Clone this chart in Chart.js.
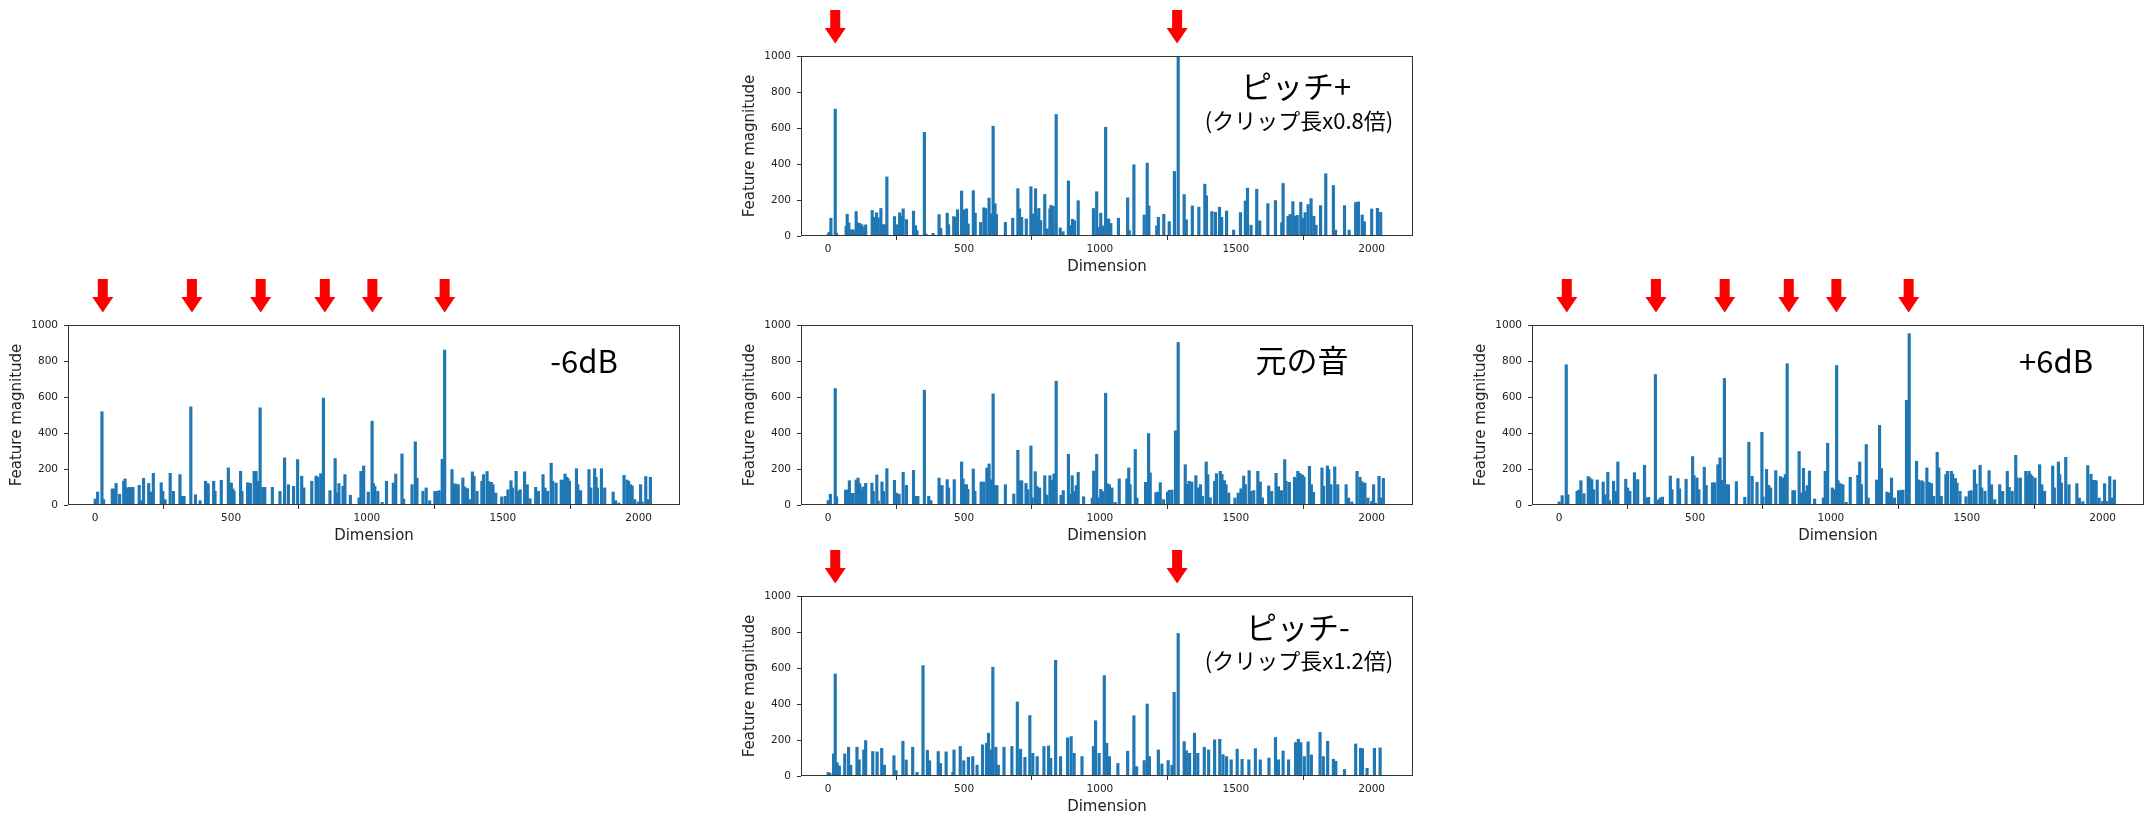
<!DOCTYPE html>
<html>
<head>
<meta charset="utf-8">
<script src="https://cdn.jsdelivr.net/npm/chart.js@4"></script>
<style>
body { margin: 0; background: #fff; width: 2150px; height: 814px; position: relative; overflow: hidden; }
canvas { position: absolute; }
</style>
</head>
<body>
<canvas id="pitchUp"></canvas>
<canvas id="minus6"></canvas>
<canvas id="orig"></canvas>
<canvas id="plus6"></canvas>
<canvas id="pitchDown"></canvas>
<script>
const xTicks = [0, 500, 1000, 1500, 2000];
const yTicks = [0, 200, 400, 600, 800, 1000];

// dimensions marked with red arrows
const loudArrows = [28, 356, 609, 845, 1020, 1286];
const pitchArrows = [26, 1284];

// [dimension, feature magnitude]
const original = [[0,25],[8,60],[26,647],[31,46],[64,83],[70,83],[78,135],[86,65],[92,65],[103,139],[110,150],[116,119],[121,80],[128,100],[138,120],[161,122],[166,75],[179,167],[184,22],[198,128],[204,75],[216,202],[244,137],[251,66],[261,60],[276,182],[288,109],[314,193],[321,48],[330,48],[354,638],[370,48],[378,24],[408,150],[413,108],[419,108],[438,141],[443,95],[464,141],[491,239],[496,145],[503,113],[509,113],[514,87],[534,200],[540,76],[563,128],[573,128],[584,206],[592,228],[597,140],[602,95],[607,618],[613,108],[621,108],[652,113],[683,61],[698,304],[703,135],[712,135],[728,120],[734,85],[746,328],[751,40],[762,185],[768,104],[778,95],[797,163],[805,55],[816,163],[822,137],[831,172],[839,688],[857,54],[865,80],[884,282],[889,60],[898,163],[905,75],[913,108],[920,182],[940,46],[972,39],[977,189],[988,282],[993,40],[1003,87],[1010,75],[1021,621],[1026,119],[1035,113],[1044,95],[1056,15],[1071,145],[1099,145],[1106,206],[1111,113],[1130,308],[1136,39],[1168,126],[1179,397],[1185,178],[1206,69],[1214,72],[1222,124],[1234,30],[1249,72],[1255,82],[1265,83],[1278,412],[1288,903],[1314,224],[1321,115],[1328,132],[1338,128],[1353,163],[1359,95],[1370,113],[1377,48],[1391,239],[1397,169],[1406,40],[1422,132],[1429,174],[1443,187],[1449,170],[1458,135],[1464,113],[1474,67],[1497,39],[1509,67],[1519,90],[1529,161],[1535,113],[1549,191],[1555,76],[1566,80],[1581,187],[1590,128],[1598,39],[1621,106],[1632,76],[1648,176],[1657,102],[1668,80],[1680,252],[1685,132],[1697,126],[1716,154],[1722,145],[1728,187],[1735,176],[1740,169],[1746,165],[1751,154],[1771,215],[1778,113],[1786,70],[1817,206],[1823,104],[1837,217],[1842,197],[1850,113],[1864,212],[1875,113],[1906,113],[1915,39],[1927,17],[1946,187],[1957,154],[1963,130],[1970,122],[1975,122],[1986,39],[2000,20],[2007,113],[2014,10],[2027,160],[2034,39],[2043,148]];

const minus6dB = [[0,33],[9,72],[25,518],[31,30],[63,89],[69,89],[77,120],[90,60],[105,132],[110,145],[116,95],[125,98],[132,98],[139,98],[162,109],[167,24],[178,148],[197,120],[204,72],[214,176],[243,124],[249,76],[257,30],[276,176],[288,76],[312,169],[320,48],[327,48],[352,545],[369,57],[386,24],[406,132],[413,120],[416,113],[436,132],[441,76],[464,137],[490,206],[495,122],[501,122],[507,89],[511,76],[535,187],[540,76],[561,124],[571,120],[585,187],[592,187],[598,132],[607,540],[617,98],[624,98],[652,98],[680,76],[697,262],[711,113],[730,104],[745,252],[760,160],[768,95],[797,132],[813,161],[819,154],[830,174],[840,594],[864,80],[883,258],[889,67],[897,119],[912,104],[919,169],[939,54],[971,39],[978,187],[988,217],[1005,72],[1019,466],[1024,119],[1029,104],[1040,76],[1056,15],[1072,132],[1097,122],[1106,172],[1129,284],[1135,33],[1166,113],[1178,351],[1184,150],[1206,76],[1218,95],[1231,24],[1250,76],[1257,76],[1266,80],[1277,254],[1286,861],[1313,197],[1320,117],[1327,117],[1336,113],[1353,150],[1360,100],[1370,91],[1379,30],[1388,184],[1394,160],[1405,76],[1423,132],[1429,169],[1442,186],[1448,130],[1458,126],[1464,113],[1474,67],[1496,45],[1509,48],[1519,85],[1530,135],[1536,95],[1549,187],[1554,76],[1564,85],[1580,184],[1590,113],[1600,35],[1621,98],[1631,76],[1648,169],[1655,95],[1665,76],[1678,232],[1684,132],[1696,122],[1715,139],[1722,135],[1729,172],[1735,154],[1740,146],[1745,132],[1771,202],[1776,113],[1786,80],[1817,197],[1824,95],[1838,202],[1843,154],[1848,95],[1863,202],[1875,95],[1906,72],[1915,24],[1927,11],[1946,165],[1957,139],[1963,132],[1970,113],[1976,106],[1986,30],[2000,17],[2007,113],[2013,17],[2026,158],[2034,30],[2043,154]];

const plus6dB = [[0,17],[11,52],[26,779],[32,57],[66,76],[72,82],[80,135],[91,63],[107,158],[113,150],[120,141],[127,85],[140,139],[162,128],[168,57],[179,182],[185,24],[200,132],[207,76],[216,239],[245,143],[252,95],[260,76],[277,180],[289,141],[314,221],[323,39],[329,43],[354,725],[365,28],[372,39],[380,44],[409,161],[415,85],[437,147],[443,90],[467,143],[491,269],[496,165],[507,150],[514,85],[534,210],[541,109],[564,124],[572,124],[584,224],[592,262],[598,137],[608,703],[616,113],[623,113],[652,130],[683,43],[698,349],[710,160],[728,126],[746,404],[750,45],[763,198],[771,109],[778,95],[797,191],[814,158],[823,150],[832,169],[839,785],[860,80],[866,80],[883,297],[889,67],[899,204],[906,76],[913,108],[921,189],[940,33],[972,39],[979,187],[988,343],[1005,95],[1012,85],[1021,775],[1026,135],[1034,119],[1044,113],[1056,15],[1071,154],[1099,165],[1106,239],[1112,113],[1130,336],[1137,39],[1168,139],[1179,442],[1186,202],[1206,72],[1214,67],[1223,150],[1234,39],[1249,80],[1256,80],[1265,83],[1278,581],[1288,952],[1315,243],[1322,139],[1334,135],[1339,128],[1353,206],[1360,126],[1370,119],[1378,48],[1391,293],[1397,206],[1406,48],[1423,169],[1429,187],[1443,187],[1448,172],[1458,147],[1464,122],[1475,76],[1497,46],[1509,76],[1516,80],[1528,195],[1534,117],[1549,221],[1555,95],[1567,76],[1582,191],[1591,113],[1603,30],[1621,113],[1632,76],[1649,187],[1656,98],[1667,76],[1680,276],[1685,150],[1697,150],[1717,187],[1723,163],[1729,187],[1735,169],[1740,160],[1751,150],[1768,224],[1776,113],[1786,76],[1816,217],[1822,95],[1837,239],[1842,169],[1848,122],[1864,265],[1876,113],[1905,119],[1914,39],[1927,19],[1945,219],[1957,171],[1963,137],[1970,137],[1976,135],[1987,39],[2000,20],[2007,119],[2014,20],[2026,158],[2034,39],[2043,139]];

const pitchUp = [[0,11],[4,20],[10,99],[26,705],[31,15],[66,54],[70,121],[76,73],[82,35],[92,35],[97,20],[103,136],[109,73],[116,70],[124,62],[131,48],[138,62],[162,142],[168,104],[178,129],[184,101],[194,153],[200,63],[207,63],[216,328],[244,108],[252,63],[263,129],[269,110],[276,151],[288,91],[314,138],[321,58],[327,30],[354,576],[360,11],[386,15],[408,119],[414,43],[438,127],[443,63],[462,108],[468,104],[476,146],[491,250],[498,146],[509,151],[515,67],[534,252],[541,127],[561,75],[573,157],[580,153],[592,211],[597,123],[607,610],[614,179],[619,119],[652,76],[679,99],[698,263],[704,151],[712,104],[729,95],[746,274],[752,123],[763,263],[768,104],[775,153],[782,86],[797,231],[806,40],[816,151],[820,170],[828,165],[839,675],[854,45],[864,24],[884,306],[889,58],[899,93],[906,86],[920,196],[976,153],[988,246],[993,48],[1003,127],[1010,56],[1021,604],[1032,95],[1040,70],[1068,99],[1102,212],[1108,30],[1125,396],[1163,117],[1174,405],[1180,167],[1209,56],[1215,104],[1235,121],[1255,80],[1274,359],[1288,1000],[1310,230],[1318,90],[1340,167],[1364,160],[1386,288],[1392,223],[1412,136],[1425,132],[1440,160],[1448,104],[1466,139],[1492,33],[1517,130],[1535,195],[1543,266],[1556,60],[1577,260],[1588,84],[1618,180],[1646,197],[1669,74],[1674,292],[1692,110],[1700,120],[1710,191],[1720,110],[1726,115],[1739,188],[1747,98],[1755,130],[1766,175],[1777,208],[1787,110],[1795,60],[1812,169],[1831,346],[1859,281],[1867,33],[1900,169],[1917,33],[1941,186],[1951,190],[1965,117],[1973,80],[2000,150],[2021,154],[2033,132]];

const pitchDown = [[0,20],[6,15],[20,123],[26,567],[33,74],[41,56],[61,123],[75,160],[83,60],[106,160],[114,90],[131,145],[138,197],[164,136],[180,134],[197,154],[207,60],[242,113],[250,30],[275,193],[287,89],[311,160],[327,20],[349,613],[365,143],[373,85],[405,136],[413,70],[434,134],[459,20],[463,145],[486,164],[499,85],[516,104],[532,108],[548,60],[568,173],[583,182],[590,238],[598,145],[606,604],[617,160],[626,60],[647,160],[676,164],[696,411],[708,149],[724,104],[742,336],[753,126],[769,108],[794,164],[811,167],[819,98],[837,643],[855,108],[881,212],[894,219],[905,126],[934,108],[976,164],[984,307],[997,126],[1016,558],[1025,182],[1035,108],[1066,70],[1102,138],[1125,335],[1135,52],[1163,86],[1174,400],[1182,108],[1215,145],[1228,67],[1251,86],[1265,60],[1273,465],[1288,792],[1310,191],[1318,140],[1330,126],[1348,238],[1360,126],[1384,160],[1400,145],[1422,201],[1441,204],[1453,119],[1466,108],[1483,90],[1505,149],[1523,93],[1548,90],[1572,152],[1590,90],[1622,100],[1646,214],[1657,90],[1674,139],[1694,90],[1720,186],[1730,204],[1739,186],[1752,108],[1766,190],[1778,117],[1810,242],[1822,108],[1838,193],[1859,93],[1868,82],[1900,36],[1941,178],[1959,154],[1966,152],[1983,43],[2010,154],[2031,156]];

const PAD_TOP = 56, AXIS_W = 68, AXIS_H = 52, PAD_RIGHT = 6, PLOT_W = 612, PLOT_H = 180;
const CJK = '"Noto Sans CJK JP", "Noto Sans", sans-serif';

const panels = [
    { id: 'pitchUp', left: 733, top: 0, data: pitchUp, arrows: pitchArrows,
      labels: [['ピッチ+', 31, 495, 30], ['(クリップ長x0.8倍)', 22, 498, 64.5]] },
    { id: 'minus6', left: 0, top: 269, data: minus6dB, arrows: loudArrows,
      labels: [['-6dB', 31, 516, 36]] },
    { id: 'orig', left: 733, top: 269, data: original, arrows: [],
      labels: [['元の音', 31, 501, 35]] },
    { id: 'plus6', left: 1464, top: 269, data: plus6dB, arrows: loudArrows,
      labels: [['+6dB', 31, 524, 36]] },
    { id: 'pitchDown', left: 733, top: 540, data: pitchDown, arrows: pitchArrows,
      labels: [['ピッチ-', 31, 497, 31.5], ['(クリップ長x1.2倍)', 22, 498, 65]] },
];

const decorPlugin = {
    id: 'decor',
    afterDraw(chart, args, opts) {
        const { ctx, chartArea: a, scales: { x } } = chart;
        ctx.save();
        // spines on all four sides
        ctx.strokeStyle = '#333';
        ctx.lineWidth = 1;
        ctx.strokeRect(a.left + 0.5, a.top + 0.5, a.right - a.left - 1, a.bottom - a.top - 1);
        // red arrows
        ctx.fillStyle = '#ff0000';
        opts.arrows.forEach(d => {
            const cx = x.getPixelForValue(d);
            const tail = a.top - 46, tip = a.top - 12.5, neck = a.top - 28;
            ctx.beginPath();
            ctx.moveTo(cx - 5, tail);
            ctx.lineTo(cx + 5, tail);
            ctx.lineTo(cx + 5, neck);
            ctx.lineTo(cx + 10.5, neck);
            ctx.lineTo(cx, tip);
            ctx.lineTo(cx - 10.5, neck);
            ctx.lineTo(cx - 5, neck);
            ctx.closePath();
            ctx.fill();
        });
        // text labels inside the plot
        ctx.fillStyle = '#000';
        ctx.textAlign = 'center';
        ctx.textBaseline = 'middle';
        opts.labels.forEach(([txt, size, dx, dy]) => {
            ctx.font = size + 'px ' + CJK;
            ctx.fillText(txt, a.left + dx, a.top + dy);
        });
        ctx.restore();
    }
};

panels.forEach(p => {
    const cv = document.getElementById(p.id);
    cv.width = AXIS_W + PLOT_W + PAD_RIGHT;
    cv.height = PAD_TOP + PLOT_H + AXIS_H;
    cv.style.left = p.left + 'px';
    cv.style.top = p.top + 'px';

    new Chart(cv.getContext('2d'), {
        type: 'bar',
        data: {
            datasets: [{
                data: p.data.map(([d, v]) => ({ x: d, y: v })),
                backgroundColor: '#1f77b4',
                borderWidth: 0,
                barThickness: 2.5
            }]
        },
        options: {
            responsive: false,
            animation: false,
            events: [],
            layout: { padding: { top: PAD_TOP, right: PAD_RIGHT, left: 0, bottom: 0 } },
            plugins: {
                legend: { display: false },
                tooltip: { enabled: false },
                decor: { arrows: p.arrows, labels: p.labels }
            },
            scales: {
                x: {
                    type: 'linear',
                    offset: false,
                    min: -100,
                    max: 2152,
                    afterFit: s => { s.height = AXIS_H; },
                    afterBuildTicks: s => { s.ticks = xTicks.map(v => ({ value: v })); },
                    border: { display: false },
                    grid: { drawOnChartArea: false, drawTicks: true, tickLength: 4, color: '#333' },
                    ticks: { autoSkip: false, maxRotation: 0, padding: 3, color: '#222',
                             callback: v => String(v),
                             font: { family: 'DejaVu Sans', size: 10.5 } },
                    title: { display: true, text: 'Dimension', color: '#222',
                             font: { family: 'DejaVu Sans', size: 15 }, padding: { top: 0, bottom: 12 } }
                },
                y: {
                    min: 0,
                    max: 1000,
                    afterFit: s => { s.width = AXIS_W; },
                    afterBuildTicks: s => { s.ticks = yTicks.map(v => ({ value: v })); },
                    border: { display: false },
                    grid: { drawOnChartArea: false, drawTicks: true, tickLength: 4, color: '#333' },
                    ticks: { padding: 6, color: '#222', callback: v => String(v),
                             font: { family: 'DejaVu Sans', size: 10.5 } },
                    title: { display: true, text: 'Feature magnitude', color: '#222',
                             font: { family: 'DejaVu Sans', size: 15 }, padding: { top: 8, bottom: 0 } }
                }
            }
        },
        plugins: [decorPlugin]
    });
});
</script>
</body>
</html>
